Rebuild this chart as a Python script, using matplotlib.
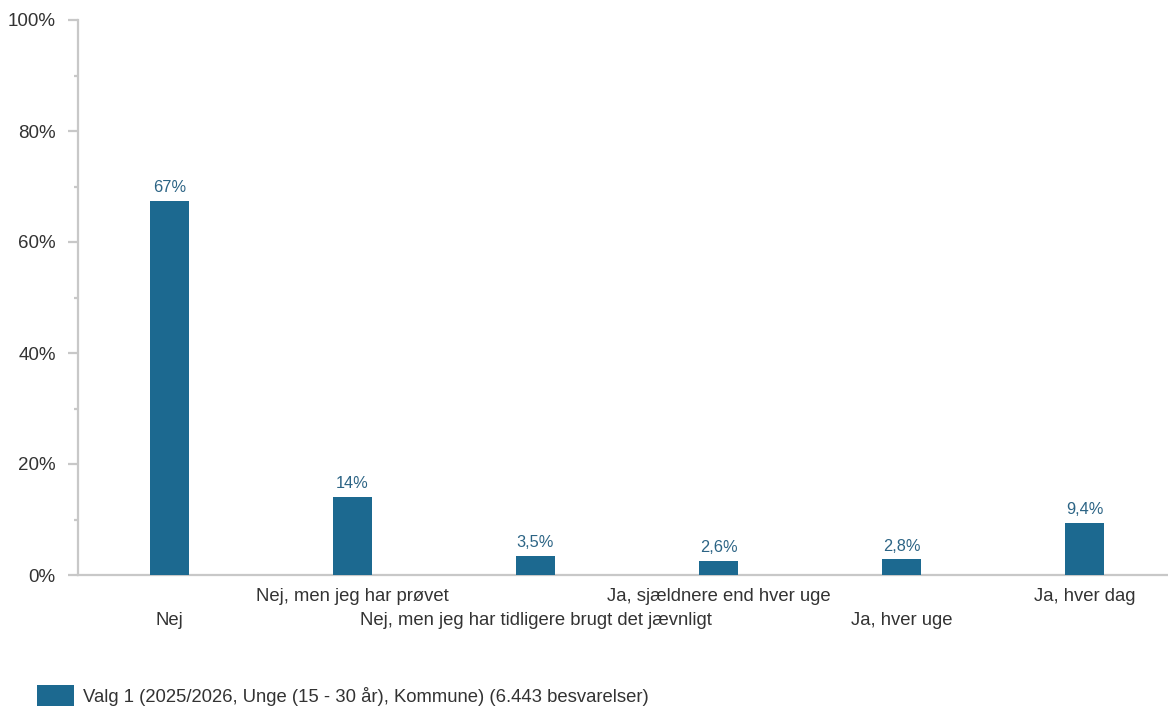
import matplotlib
matplotlib.use("Agg")
import matplotlib.pyplot as plt
from matplotlib.patches import Patch
from matplotlib.ticker import MultipleLocator, FuncFormatter

plt.rcParams['font.family'] = ['Liberation Sans', 'DejaVu Sans']

categories = ["Nej", "Nej, men jeg har prøvet", "Nej, men jeg har tidligere brugt det jævnligt",
              "Ja, sjældnere end hver uge", "Ja, hver uge", "Ja, hver dag"]
values = [67.4, 14.1, 3.5, 2.6, 2.8, 9.4]
value_labels = ["67%", "14%", "3,5%", "2,6%", "2,8%", "9,4%"]
series_name = "Valg 1 (2025/2026, Unge (15 - 30 år), Kommune) (6.443 besvarelser)"

bar_color = "#1c6990"
label_color = "#2c6485"
axis_color = "#c8c8c8"
text_color = "#333333"

W, H = 1168, 706
fig = plt.figure(figsize=(W / 100, H / 100), dpi=100)
left, bottom, top = 78, 575, 20
ax = fig.add_axes([left / W, (H - bottom) / H, 1098 / W, (bottom - top) / H])

x = list(range(len(categories)))
bars = ax.bar(x, values, width=0.21, color=bar_color, zorder=3)
for xi, v, lab in zip(x, values, value_labels):
    ax.annotate(lab, (xi, v), xytext=(0, 4), textcoords="offset points",
                ha="center", va="bottom", fontsize=11.8, color=label_color)

ax.set_xlim(-0.5, 5.5)
ax.set_ylim(0, 100)
ax.yaxis.set_major_locator(MultipleLocator(20))
ax.yaxis.set_minor_locator(MultipleLocator(10))
ax.yaxis.set_major_formatter(FuncFormatter(lambda v, p: f"{int(v)}%"))

for s in ["top", "right"]:
    ax.spines[s].set_visible(False)
for s in ["left", "bottom"]:
    ax.spines[s].set_color(axis_color)
    ax.spines[s].set_linewidth(1.6)

ax.tick_params(axis="y", which="major", length=7, width=1.6, color=axis_color,
               labelsize=13.5, labelcolor=text_color, pad=9)
ax.tick_params(axis="y", which="minor", length=3, width=1.6, color=axis_color)
ax.set_xticks(x)
ax.set_xticklabels(categories)
ax.tick_params(axis="x", length=0, labelsize=13.3, labelcolor=text_color)
for i, t in enumerate(ax.xaxis.get_major_ticks()):
    t.set_pad(9.5 if i % 2 == 1 else 26.5)

leg = fig.legend(handles=[Patch(facecolor=bar_color, edgecolor="none", label=series_name)],
                 loc="lower left", bbox_to_anchor=(37 / W, 0), frameon=False,
                 fontsize=13.3, handlelength=2.0, handleheight=1.35, handletextpad=0.5,
                 borderpad=0, borderaxespad=0, labelcolor=text_color)

fig.savefig("out.png", dpi=100)
